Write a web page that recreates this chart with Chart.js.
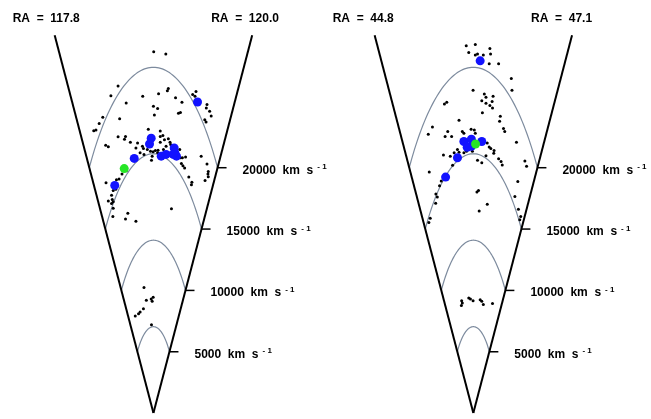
<!DOCTYPE html>
<html>
<head>
<meta charset="utf-8">
<script src="https://cdn.jsdelivr.net/npm/chart.js@4/dist/chart.umd.min.js"></script>
<style>
  html, body { margin: 0; padding: 0; background: #fff; }
  #wrap { position: relative; width: 651px; height: 419px; overflow: hidden; }
  #wrap canvas { position: absolute; top: 0; }
  #leftCone { left: 0; }
  #rightCone { left: 320px; }
</style>
</head>
<body>
<div id="wrap">
  <canvas id="leftCone" width="340" height="419"></canvas>
  <canvas id="rightCone" width="331" height="419"></canvas>
</div>
<script>
// Galaxy positions in the cone plane, in units of 1000 km/s:
// [across the slice, along the line of sight]

// RA 117.8 - 120.0 slice
const leftField = [
    [0.06, 20.90], [2.72, 20.77], [-7.77, 18.92], [-9.35, 18.36], [-5.99, 17.94], [-2.35, 18.32],
    [1.13, 18.47], [3.06, 18.64], [3.27, 18.77], [4.86, 18.24], [6.27, 17.98], [0.00, 17.75],
    [0.92, 17.62], [0.21, 17.24], [5.50, 17.34], [5.93, 17.39], [-7.43, 17.03], [-11.13, 17.11],
    [-11.92, 16.75], [-13.12, 16.33], [-12.63, 16.37], [-1.13, 16.41], [1.50, 16.32], [8.62, 18.43],
    [9.35, 18.60], [9.14, 18.32], [11.77, 17.85], [11.62, 17.65], [12.35, 17.45], [12.69, 17.18],
    [11.28, 16.97], [11.56, 16.83], [-7.77, 15.98], [-6.14, 16.00], [-6.36, 15.84], [-5.07, 15.67],
    [-10.49, 15.49], [-9.91, 15.40], [-3.49, 15.62], [-3.85, 15.33], [-2.42, 15.43], [-2.20, 15.30],
    [-1.35, 15.24], [-0.64, 15.15], [-0.06, 15.11], [0.43, 15.19], [1.01, 15.20], [-2.93, 15.05],
    [-2.08, 14.96], [-0.28, 14.86], [-0.43, 14.62], [1.50, 16.00], [2.08, 16.05], [2.42, 15.81],
    [1.50, 15.67], [3.27, 15.86], [3.64, 15.67], [2.78, 15.43], [3.79, 15.53], [2.20, 15.24],
    [0.92, 15.05], [5.78, 15.24], [5.93, 14.77], [6.36, 14.77], [7.06, 14.81], [6.14, 14.43],
    [6.48, 14.30], [6.85, 14.17], [7.77, 13.66], [8.45, 13.35], [8.35, 13.20], [10.49, 14.86],
    [11.77, 14.41], [12.05, 13.97], [11.98, 13.83], [12.05, 13.67], [11.34, 13.45], [3.96, 11.82],
    [-10.42, 13.32], [-6.91, 13.83], [-5.99, 14.01], [-8.13, 13.50], [-7.55, 13.54], [-8.84, 12.88],
    [-8.28, 12.94], [-9.20, 12.60], [-9.05, 12.36], [-9.91, 12.26], [-8.84, 12.22], [-9.20, 12.12],
    [-8.84, 11.85], [-8.92, 11.37], [-6.14, 11.22], [-5.63, 11.56], [-3.85, 11.09],
    [-2.08, 7.26], [-1.56, 6.53], [-0.49, 6.60], [-0.06, 6.70], [-0.28, 6.47], [-2.20, 6.03],
    [-2.93, 5.85], [-3.27, 5.75], [-4.00, 5.62], [-0.43, 5.11]
];
const leftBlue = [
    [9.69, 17.99], [-0.49, 15.90], [-0.86, 15.56], [-4.22, 14.73], [1.71, 14.86], [2.78, 14.96],
    [4.56, 15.33], [4.71, 15.05], [5.07, 14.86], [4.34, 14.96], [-8.50, 13.17]
];
const leftGreen = [[-6.42, 14.14]];

// RA 44.8 - 47.1 slice
const rightField = [
    [-1.56, 21.24], [0.43, 21.32], [3.64, 21.09], [3.79, 20.77], [-1.01, 20.86], [0.43, 20.71],
    [0.92, 20.77], [2.20, 20.71], [3.49, 20.20], [5.56, 20.20], [8.35, 19.35], [8.50, 18.67],
    [-0.06, 18.67], [2.42, 18.45], [2.78, 18.26], [4.34, 18.32], [1.86, 18.07], [2.78, 17.92],
    [3.64, 17.79], [4.13, 18.02], [4.22, 17.65], [1.99, 17.37], [-6.36, 17.88], [-5.84, 17.98],
    [-3.15, 16.94], [5.93, 17.17], [5.78, 16.88], [-8.99, 16.54], [-9.91, 16.13], [-6.21, 16.00],
    [-6.57, 14.92], [-9.69, 13.94], [-7.06, 13.42], [-7.43, 13.15], [-8.24, 12.67], [-7.92, 12.50],
    [-8.28, 12.13], [-9.48, 11.27], [-9.78, 11.03], [-5.63, 16.28], [-4.77, 16.00], [-2.42, 16.28],
    [-2.08, 16.18], [-0.49, 16.41], [0.21, 16.37], [0.43, 16.18], [6.63, 16.46], [6.91, 16.28],
    [9.48, 15.66], [3.06, 15.62], [3.49, 15.39], [3.85, 15.30], [4.56, 15.19], [4.49, 15.03],
    [2.78, 14.89], [5.56, 14.71], [6.10, 14.55], [6.36, 14.35], [-3.49, 15.24], [-4.22, 15.05],
    [-3.15, 15.09], [-5.07, 14.86], [-2.08, 15.05], [-1.50, 15.15], [-0.21, 15.15], [0.92, 14.62],
    [1.86, 14.48], [-4.56, 14.34], [11.34, 14.58], [11.71, 14.27], [9.78, 13.39], [1.13, 12.88],
    [0.79, 12.79], [3.06, 12.08], [1.28, 11.69], [9.14, 12.53], [9.91, 11.79], [10.42, 11.37],
    [10.21, 11.18],
    [-2.57, 6.50], [-2.42, 6.37], [-2.63, 6.22], [-1.01, 6.66], [-0.64, 6.60], [-0.06, 6.50],
    [1.50, 6.56], [1.86, 6.47], [2.20, 6.28], [4.22, 6.34]
];
const rightBlue = [
    [1.50, 20.37], [-2.08, 15.71], [-0.43, 15.84], [-0.43, 15.43], [1.86, 15.71], [-1.35, 15.37],
    [-3.49, 14.77], [-6.10, 13.65]
];
const rightGreen = [[0.49, 15.56]];

// velocity rings (1000 km/s) and the RA limits of each slice
const velocityRings = [5, 10, 15, 20];
const leftRA = ['117.8', '120.0'];
const rightRA = ['44.8', '47.1'];

// cone geometry
const HALF_ANGLE = 44.8 * Math.PI / 180;
const CONE_DEPTH = 30.8;

const FONT = '"Liberation Sans", Arial, sans-serif';

const conePlugin = {
    id: 'cone',
    beforeDatasetsDraw(chart) {
        const ctx = chart.ctx;
        const xs = chart.scales.x, ys = chart.scales.y;
        const toPx = (r, a) => [xs.getPixelForValue(r * Math.sin(a)), ys.getPixelForValue(r * Math.cos(a))];
        const ra = chart.options.plugins.cone.ra;

        ctx.save();

        // constant-velocity arcs
        ctx.strokeStyle = '#7d8b9e';
        ctx.lineWidth = 1.2;
        velocityRings.forEach(v => {
            ctx.beginPath();
            for (let i = 0; i <= 80; i++) {
                const a = -HALF_ANGLE + 2 * HALF_ANGLE * i / 80;
                const [px, py] = toPx(v, a);
                if (i === 0) ctx.moveTo(px, py); else ctx.lineTo(px, py);
            }
            ctx.stroke();
        });

        // cone edges
        const [ax, ay] = toPx(0, 0);
        const [lx, ly] = toPx(CONE_DEPTH, -HALF_ANGLE);
        const [rx, ry] = toPx(CONE_DEPTH, HALF_ANGLE);
        ctx.strokeStyle = '#000';
        ctx.lineWidth = 2;
        ctx.beginPath(); ctx.moveTo(lx, ly); ctx.lineTo(ax, ay); ctx.stroke();
        ctx.beginPath(); ctx.moveTo(rx, ry); ctx.lineTo(ax, ay); ctx.stroke();

        // velocity ticks and labels on the right edge
        ctx.lineWidth = 1.5;
        ctx.fillStyle = '#000';
        ctx.textBaseline = 'middle';
        velocityRings.forEach(v => {
            const [tx, ty] = toPx(v, HALF_ANGLE);
            ctx.beginPath(); ctx.moveTo(tx, ty); ctx.lineTo(tx + 9, ty); ctx.stroke();
            const lx0 = tx + 25, ly0 = ty + 2.5;
            ctx.font = 'bold 12px ' + FONT;
            const main = (v * 1000) + '  km  s';
            ctx.fillText(main, lx0, ly0);
            const w = ctx.measureText(main).width;
            ctx.font = 'bold 8px ' + FONT;
            ctx.fillText('- 1', lx0 + w + 4, ly0 - 3);
        });

        // RA labels above each edge
        ctx.font = 'bold 12px ' + FONT;
        ctx.fillText('RA  =  ' + ra[0], lx - 42, ly - 16.5);
        ctx.fillText('RA  =  ' + ra[1], rx - 41, ry - 16.5);

        ctx.restore();
    }
};

function makeCone(id, field, blue, green, ra, xMax) {
    return new Chart(document.getElementById(id), {
        type: 'scatter',
        data: {
            datasets: [
                { label: 'green', data: green, order: 1, pointRadius: 4.5, pointBorderWidth: 0,
                  backgroundColor: '#26e626' },
                { label: 'blue', data: blue, order: 2, pointRadius: 4.5, pointBorderWidth: 0,
                  backgroundColor: '#1212ff' },
                { label: 'field', data: field, order: 3, pointRadius: 1.5, pointBorderWidth: 0,
                  backgroundColor: '#000' }
            ]
        },
        options: {
            responsive: false,
            animation: false,
            events: [],
            layout: { padding: 0 },
            scales: {
                x: { type: 'linear', display: false, min: -32.73, max: xMax },
                y: { type: 'linear', display: false, min: -0.08, max: 23.63 }
            },
            plugins: {
                legend: { display: false },
                tooltip: { enabled: false },
                cone: { ra: ra }
            }
        },
        plugins: [conePlugin]
    });
}

makeCone('leftCone', leftField, leftBlue, leftGreen, leftRA, 40.01);
makeCone('rightCone', rightField, rightBlue, rightGreen, rightRA, 38.08);
</script>
</body>
</html>
